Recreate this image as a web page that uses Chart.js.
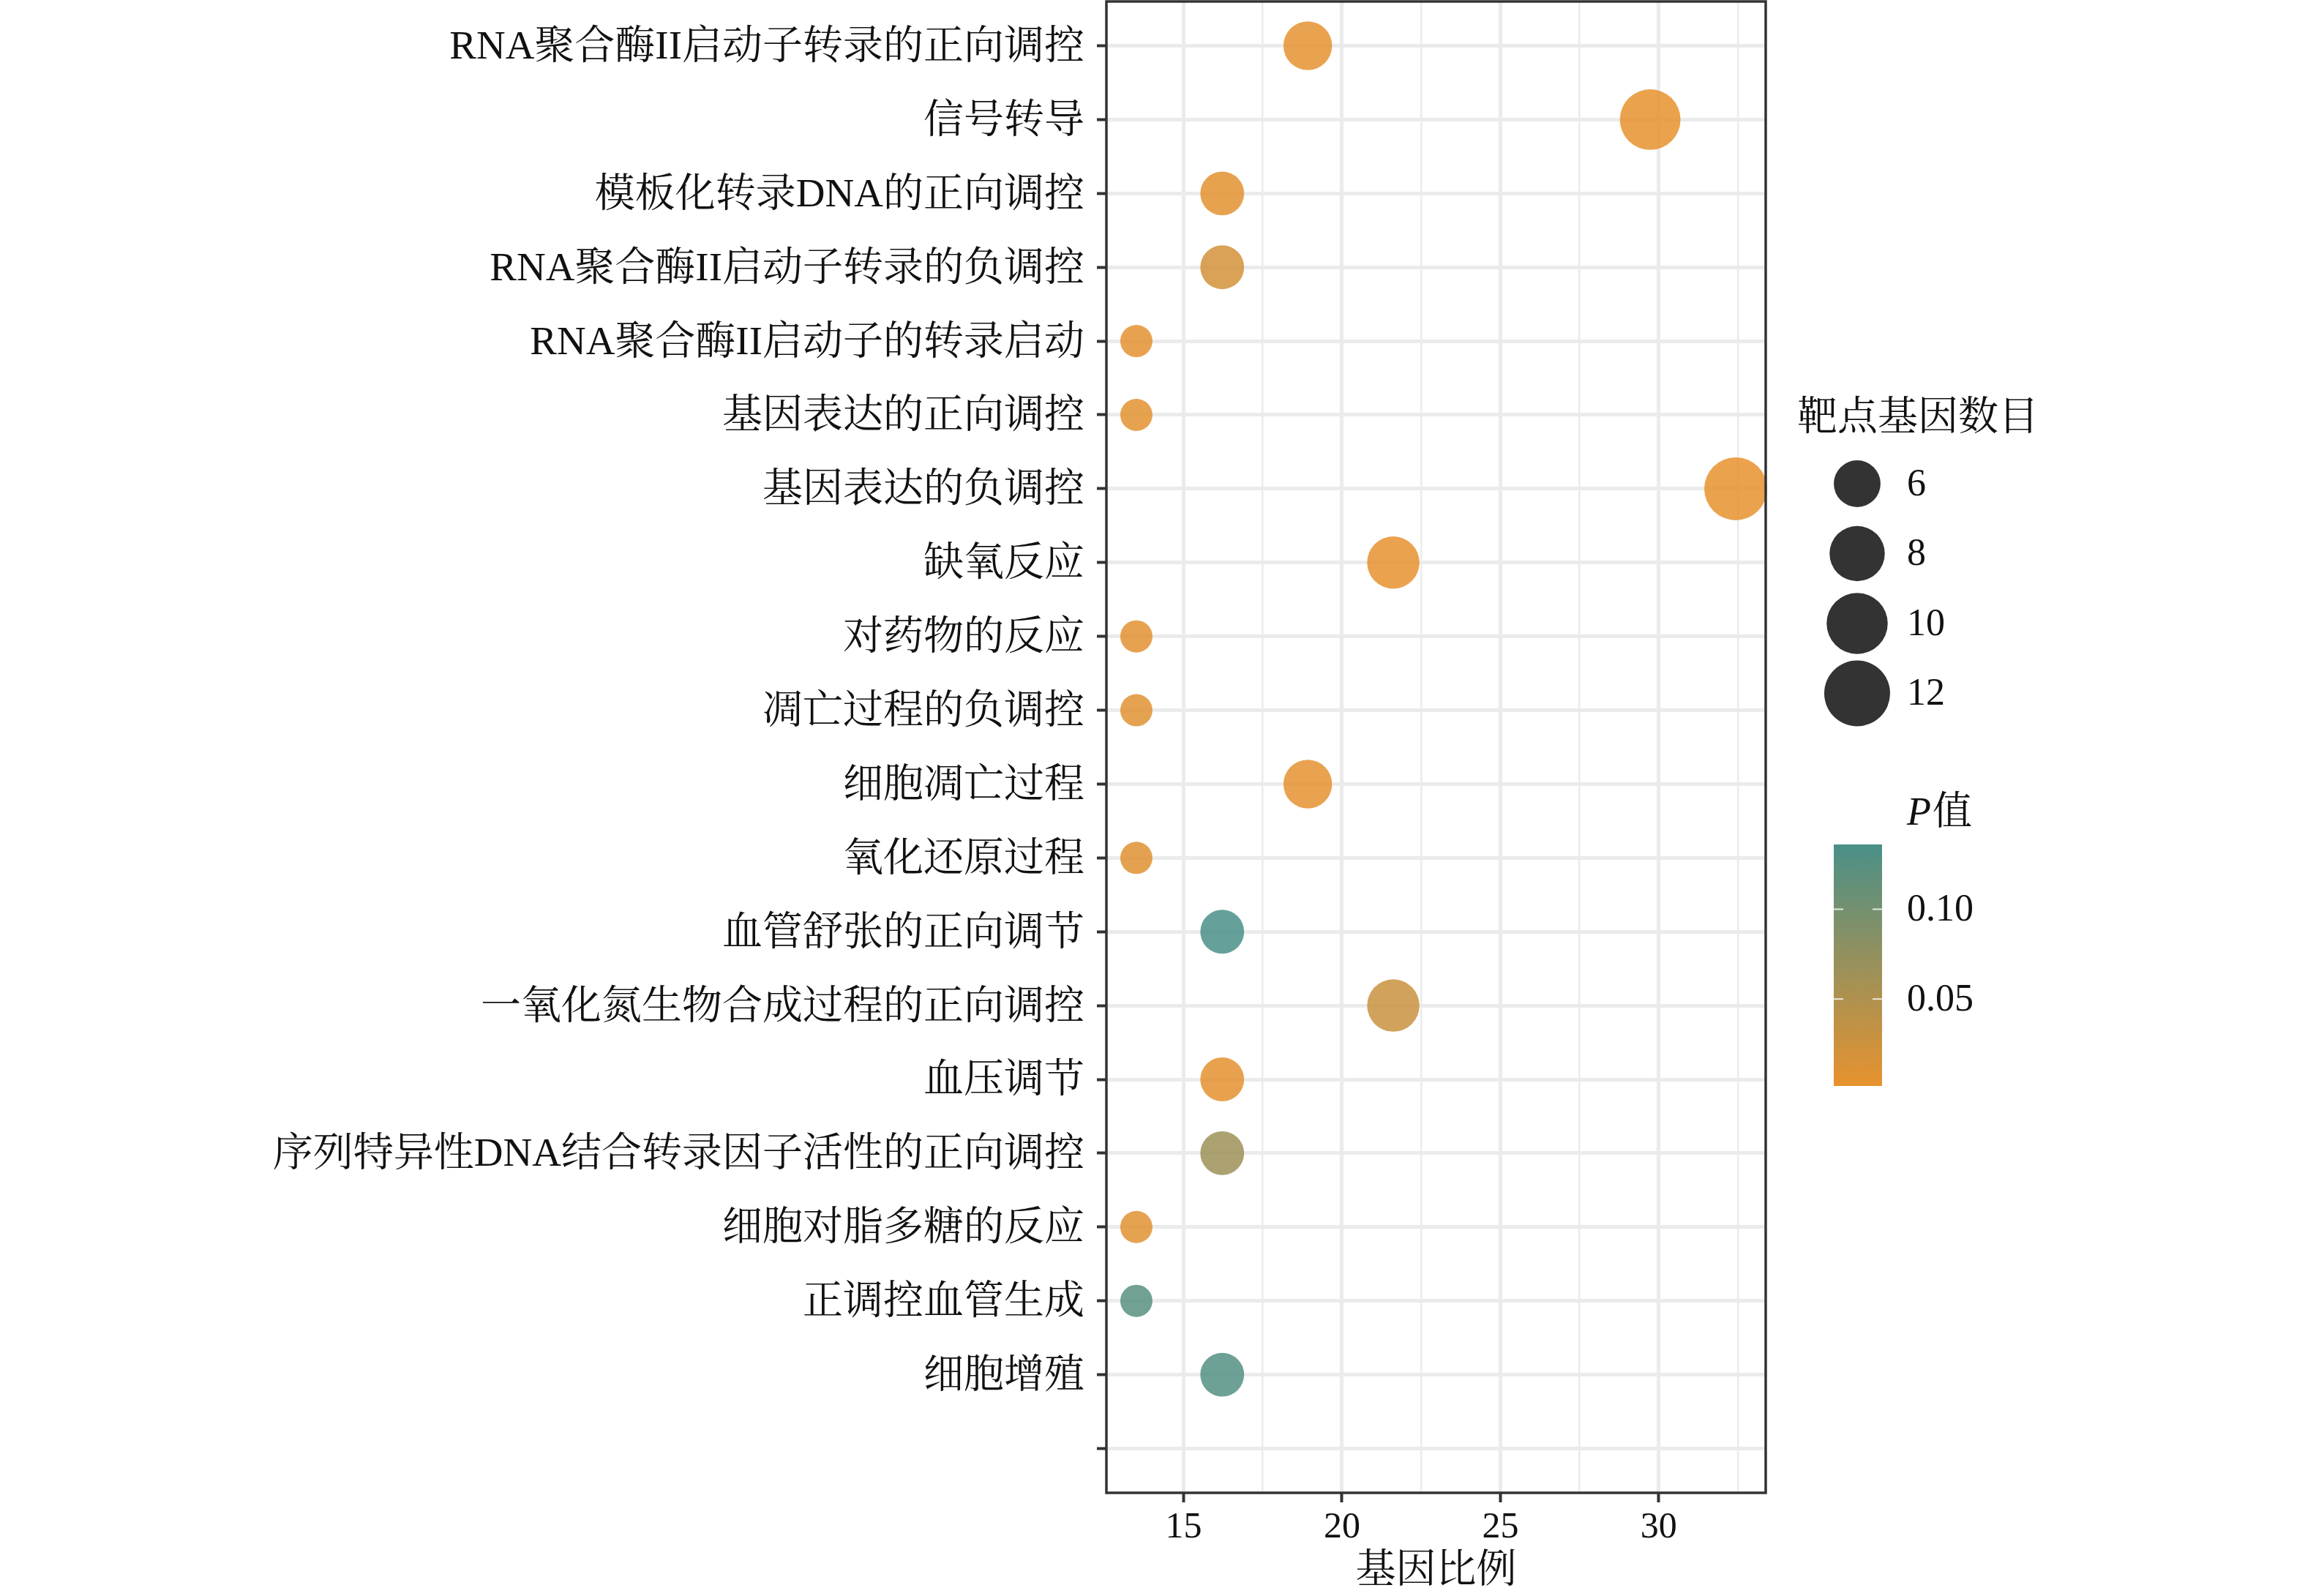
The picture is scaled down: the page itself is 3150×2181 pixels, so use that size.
<!DOCTYPE html>
<html>
<head>
<meta charset="utf-8">
<script src="https://cdn.jsdelivr.net/npm/chart.js@4.4.1/dist/chart.umd.min.js"></script>
<style>
  html, body { margin: 0; padding: 0; background: #ffffff; overflow: hidden; }
  canvas { display: block; }
</style>
</head>
<body>
<canvas id="goChart" width="3150" height="2181"></canvas>
<script>
// GO terms, top to bottom (last one is the empty slot at the bottom of the axis)
var terms = [
    "RNA聚合酶II启动子转录的正向调控",
    "信号转导",
    "模板化转录DNA的正向调控",
    "RNA聚合酶II启动子转录的负调控",
    "RNA聚合酶II启动子的转录启动",
    "基因表达的正向调控",
    "基因表达的负调控",
    "缺氧反应",
    "对药物的反应",
    "凋亡过程的负调控",
    "细胞凋亡过程",
    "氧化还原过程",
    "血管舒张的正向调节",
    "一氧化氮生物合成过程的正向调控",
    "血压调节",
    "序列特异性DNA结合转录因子活性的正向调控",
    "细胞对脂多糖的反应",
    "正调控血管生成",
    "细胞增殖",
    ""
];

// gene ratio (%), target gene count and P value for each term
var geneRatio = [18.92, 29.73, 16.22, 16.22, 13.51, 13.51, 32.43, 21.62, 13.51, 13.51,
                 18.92, 13.51, 16.22, 21.62, 16.22, 16.22, 13.51, 13.51, 16.22];
var geneCount = [7, 11, 6, 6, 5, 5, 12, 8, 5, 5, 7, 5, 6, 8, 6, 6, 5, 5, 6];
var pValue = [0.004, 0.0016, 0.006, 0.02, 0.005, 0.006, 0.002, 0.003, 0.007, 0.008,
              0.004, 0.009, 0.136, 0.028, 0.005, 0.065, 0.008, 0.124, 0.128];

// ticks
var xMajorTicks = [15, 20, 25, 30];
var xMinorTicks = [17.5, 22.5, 27.5, 32.5];
var sizeLegendValues = [6, 8, 10, 12];
var colourLegendValues = [0.05, 0.10];

document.addEventListener("DOMContentLoaded", function() {
    var SERIF = '"Liberation Serif", "Noto Serif CJK SC", "Noto Sans CJK SC", serif';
    var lowColour = [232, 146, 46];   // small P
    var highColour = [74, 144, 136];  // large P

    var pMin = Math.min.apply(null, pValue);
    var pMax = Math.max.apply(null, pValue);
    var cMin = Math.min.apply(null, geneCount);
    var cMax = Math.max.apply(null, geneCount);

    function colourFor(p, alpha) {
        var t = (p - pMin) / (pMax - pMin);
        var c = lowColour.map(function(v, i) { return Math.round(v + (highColour[i] - v) * t); });
        return "rgba(" + c[0] + "," + c[1] + "," + c[2] + "," + alpha + ")";
    }

    // radius from gene count (area-like scaling)
    function radiusFor(n) {
        return 22 + 21 * Math.sqrt(Math.max(0, n - cMin) / (cMax - cMin));
    }

    var points = geneRatio.map(function(x, i) {
        return { x: x, y: i, count: geneCount[i], p: pValue[i] };
    });

    // ggplot-like 5% expansion of the x range
    var xLo = Math.min.apply(null, geneRatio), xHi = Math.max.apply(null, geneRatio);
    var xPad = (xHi - xLo) * 0.05;

    var panelBox = {
        id: "panelBox",
        afterDatasetsDraw: function(chart) {
            var a = chart.chartArea, ctx = chart.ctx;
            ctx.save();
            ctx.strokeStyle = "#333333";
            ctx.lineWidth = 3.5;
            ctx.strokeRect(a.left, a.top, a.right - a.left, a.bottom - a.top);
            ctx.restore();
        }
    };

    var sideLegend = {
        id: "sideLegend",
        afterDraw: function(chart) {
            var ctx = chart.ctx;
            ctx.save();
            ctx.fillStyle = "#111111";
            ctx.textBaseline = "middle";
            ctx.textAlign = "left";

            // size legend
            ctx.font = "55px " + SERIF;
            ctx.fillText("靶点基因数目", 2456, 573);
            ctx.font = "52px " + SERIF;
            sizeLegendValues.forEach(function(v, i) {
                var cy = 661 + i * 95.5;
                ctx.beginPath();
                ctx.fillStyle = "#333333";
                ctx.arc(2538, cy, radiusFor(v) + 2, 0, Math.PI * 2);
                ctx.fill();
                ctx.fillStyle = "#111111";
                ctx.fillText(String(v), 2606, cy + 2);
            });

            // colour legend
            ctx.font = "italic 54px " + SERIF;
            ctx.fillText("P", 2606, 1113);
            var pw = ctx.measureText("P").width;
            ctx.font = "54px " + SERIF;
            ctx.fillText("值", 2606 + pw + 2, 1113);

            var bx = 2506, bw = 66, by = 1154, bh = 330;
            var grad = ctx.createLinearGradient(0, by + bh, 0, by);
            grad.addColorStop(0, colourFor(pMin, 1));
            grad.addColorStop(0.5, colourFor((pMin + pMax) / 2, 1));
            grad.addColorStop(1, colourFor(pMax, 1));
            ctx.fillStyle = grad;
            ctx.fillRect(bx, by, bw, bh);

            ctx.font = "52px " + SERIF;
            colourLegendValues.forEach(function(v) {
                var ty = by + bh - (v - pMin) / (pMax - pMin) * bh;
                ctx.strokeStyle = "rgba(255,255,255,0.8)";
                ctx.lineWidth = 2;
                ctx.beginPath();
                ctx.moveTo(bx, ty); ctx.lineTo(bx + 13, ty);
                ctx.moveTo(bx + bw - 13, ty); ctx.lineTo(bx + bw, ty);
                ctx.stroke();
                ctx.fillStyle = "#111111";
                ctx.fillText(v.toFixed(2), 2606, ty + 2);
            });
            ctx.restore();
        }
    };

    var ctx = document.getElementById("goChart").getContext("2d");
    new Chart(ctx, {
        type: "scatter",
        data: {
            datasets: [{
                label: "GO",
                data: points,
                pointRadius: function(c) { return radiusFor(c.raw.count); },
                pointHoverRadius: function(c) { return radiusFor(c.raw.count); },
                backgroundColor: function(c) { return colourFor(c.raw.p, 0.85); },
                borderWidth: 0,
                clip: false
            }]
        },
        options: {
            responsive: false,
            devicePixelRatio: 1,
            animation: false,
            events: [],
            layout: {
                autoPadding: false,
                padding: { left: 0, right: 737, top: 2, bottom: 0 }
            },
            plugins: {
                legend: { display: false },
                tooltip: { enabled: false }
            },
            scales: {
                x: {
                    type: "linear",
                    min: xLo - xPad,
                    max: xHi + xPad,
                    afterBuildTicks: function(scale) {
                        scale.ticks = xMajorTicks.concat(xMinorTicks)
                            .sort(function(a, b) { return a - b; })
                            .map(function(v) { return { value: v }; });
                    },
                    afterFit: function(scale) {
                        scale.height = 141;
                        scale.paddingLeft = 0;
                        scale.paddingRight = 0;
                    },
                    border: { display: false },
                    grid: {
                        color: "#ebebeb",
                        lineWidth: function(c) { return c.tick && c.tick.value % 5 === 0 ? 5 : 2.5; },
                        tickColor: function(c) { return c.tick && c.tick.value % 5 === 0 ? "#333333" : "rgba(0,0,0,0)"; },
                        tickWidth: 4,
                        tickLength: 13
                    },
                    ticks: {
                        autoSkip: false,
                        maxRotation: 0,
                        padding: 5,
                        color: "#111111",
                        font: { family: SERIF, size: 50 },
                        callback: function(v) { return v % 5 === 0 ? String(v) : ""; }
                    },
                    title: {
                        display: true,
                        text: "基因比例",
                        color: "#111111",
                        font: { family: SERIF, size: 55, lineHeight: 1 },
                        padding: { top: 0, bottom: 6 }
                    }
                },
                y: {
                    type: "linear",
                    reverse: true,
                    min: -0.6,
                    max: terms.length - 1 + 0.6,
                    afterBuildTicks: function(scale) {
                        scale.ticks = terms.map(function(t, i) { return { value: i }; });
                    },
                    afterFit: function(scale) {
                        scale.width = 1512;
                        scale.paddingTop = 0;
                        scale.paddingBottom = 0;
                    },
                    border: { display: false },
                    grid: {
                        color: "#ebebeb",
                        lineWidth: 5,
                        tickColor: "#333333",
                        tickWidth: 4,
                        tickLength: 13
                    },
                    ticks: {
                        autoSkip: false,
                        padding: 17,
                        labelOffset: 3,
                        color: "#111111",
                        font: { family: SERIF, size: 55 },
                        callback: function(v) { return terms[v]; }
                    }
                }
            }
        },
        plugins: [panelBox, sideLegend]
    });
});
</script>
</body>
</html>
